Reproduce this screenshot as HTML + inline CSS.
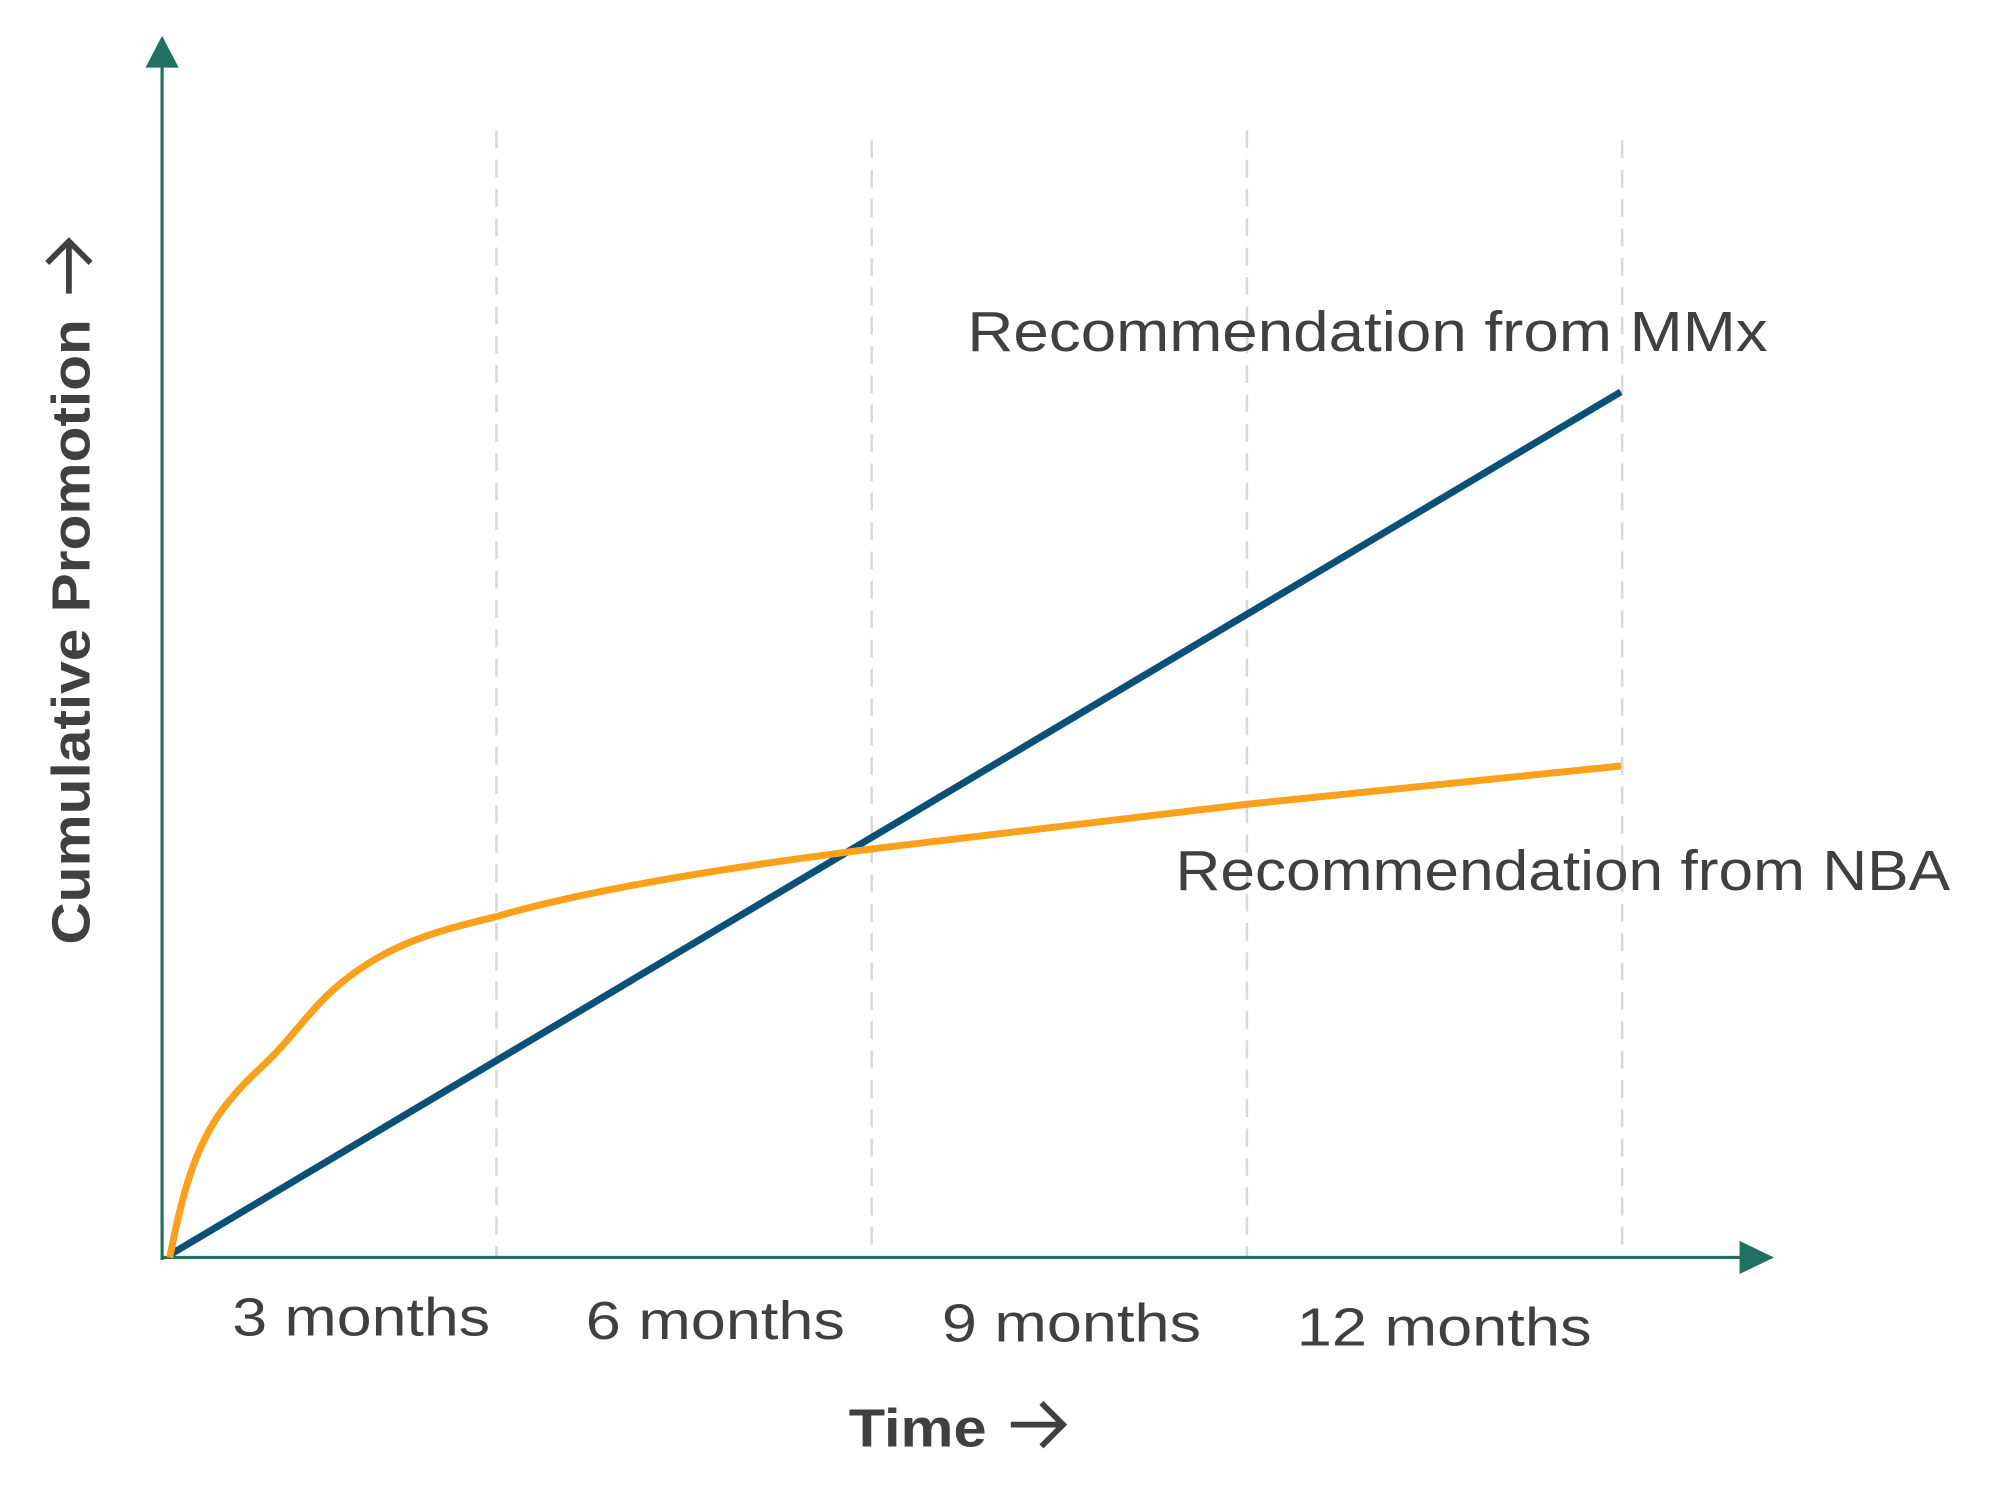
<!DOCTYPE html>
<html><head><style>html,body{margin:0;padding:0;background:#fff}svg{display:block}</style></head>
<body>
<svg width="1991" height="1500" viewBox="0 0 1560 1175" xmlns="http://www.w3.org/2000/svg" preserveAspectRatio="none">
<rect width="1560" height="1175" fill="#fff"/>
<g stroke="#d9d9d9" stroke-width="2" stroke-dasharray="14,9">
<line x1="389" y1="102" x2="389" y2="985"/>
<line x1="683" y1="110" x2="683" y2="985"/>
<line x1="977" y1="102" x2="977" y2="985"/>
<line x1="1271" y1="110" x2="1271" y2="985"/>
</g>
<g stroke="#217163" stroke-width="2.5">
<line x1="127" y1="50" x2="127" y2="987"/>
<line x1="127" y1="985" x2="1366" y2="985"/>
</g>
<polygon points="127,28 114,53 140,53" fill="#217163"/>
<polygon points="1390,985 1363,972 1363,998" fill="#217163"/>
<line x1="133" y1="983" x2="1270" y2="307" stroke="#0b5079" stroke-width="5.5"/>
<path d="M133,985 C142,940 152,895 180,862 C195,843 205,838 225,815 C245,792 260,770 300,748 C330,732 360,725 389,718 C450,700 550,682 683,665 L977,630 L1270,600" fill="none" stroke="#f9a11b" stroke-width="5.5"/>
<g font-family="Liberation Sans, sans-serif" fill="#404040">
<text x="758" y="275" font-size="44" textLength="627" lengthAdjust="spacingAndGlyphs">Recommendation from MMx</text>
<text x="921" y="697" font-size="44" textLength="607" lengthAdjust="spacingAndGlyphs">Recommendation from NBA</text>
<text x="182" y="1046" font-size="42" textLength="202" lengthAdjust="spacingAndGlyphs">3 months</text>
<text x="459" y="1049" font-size="42" textLength="203" lengthAdjust="spacingAndGlyphs">6 months</text>
<text x="738" y="1051" font-size="42" textLength="203" lengthAdjust="spacingAndGlyphs">9 months</text>
<text x="1016" y="1054" font-size="42" textLength="231" lengthAdjust="spacingAndGlyphs">12 months</text>
<text x="665" y="1133" font-size="42" font-weight="bold" textLength="108" lengthAdjust="spacingAndGlyphs">Time</text>
<text transform="translate(70,740) rotate(-90)" x="0" y="0" font-size="42" font-weight="bold" textLength="490" lengthAdjust="spacingAndGlyphs">Cumulative Promotion</text>
</g>
<g stroke="#404040" stroke-width="4.5" fill="none">
<path d="M792,1116 L832,1116 M816,1099 L833,1116 L816,1133"/>
<path d="M54,230 L54,190 M37,206 L54,189 L71,206"/>
</g>
</svg>
</body></html>
